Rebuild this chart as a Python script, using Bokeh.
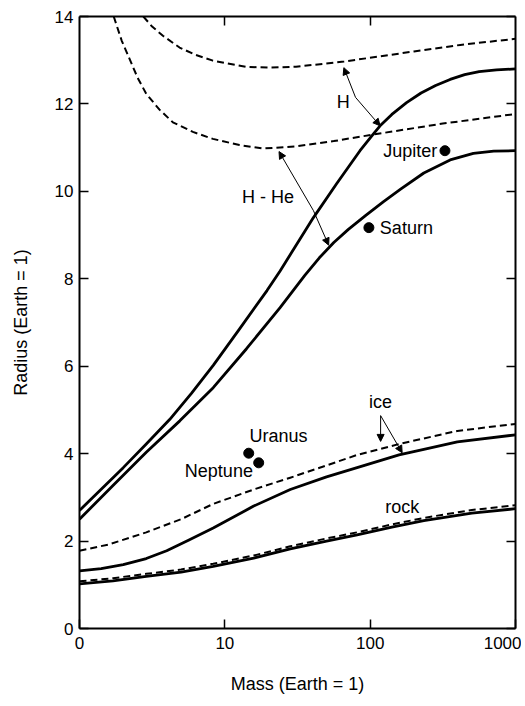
from bokeh.plotting import figure
from bokeh.models import (FixedTicker, LogAxis, LinearAxis, Arrow, NormalHead,
                          Label, ColumnDataSource, Range1d)
from bokeh.embed import file_html
from bokeh.resources import INLINE

# ---- data (mass in Earth masses, radius in Earth radii) ----
h_solid_mass = [1, 2.0, 2.88, 4.17, 5.89, 8.32, 12.6, 19.5, 24, 40.7, 58.9, 85.1, 105,
                117, 141, 178, 224, 282, 355, 447, 562, 741, 1000]
h_solid_r = [2.70, 3.68, 4.22, 4.78, 5.38, 6.02, 6.85, 7.73, 8.18, 9.40, 10.18, 10.93, 11.31,
             11.50, 11.76, 12.03, 12.25, 12.42, 12.56, 12.67, 12.74, 12.78, 12.8]

hhe_solid_mass = [1, 1.70, 2.88, 4.9, 8.32, 14.1, 24, 35.5, 44.7, 56.2, 70.8, 93.3, 123,
                  162, 234, 355, 513, 708, 1000]
hhe_solid_r = [2.50, 3.27, 4.03, 4.75, 5.51, 6.40, 7.34, 8.08, 8.48, 8.83, 9.13, 9.45, 9.76,
               10.05, 10.42, 10.72, 10.87, 10.92, 10.93]

h_dash_mass = [2.75, 3.16, 3.75, 4.88, 6.31, 8.28, 14.0, 20.0, 30.9, 66.1, 200, 417, 1000]
h_dash_r = [14.0, 13.77, 13.56, 13.29, 13.12, 12.99, 12.85, 12.83, 12.85, 12.97, 13.2, 13.35, 13.49]

hhe_dash_mass = [1.72, 1.95, 2.21, 2.51, 2.88, 3.55, 4.39, 6.03, 8.28, 12.6, 18.3, 30.9,
                 56.2, 105, 316, 1000]
hhe_dash_r = [14.0, 13.45, 13.03, 12.6, 12.23, 11.87, 11.58, 11.36, 11.20, 11.06, 10.98, 11.03,
              11.15, 11.3, 11.55, 11.77]

ice_solid_mass = [1, 1.41, 2.0, 2.88, 3.98, 5.62, 8.32, 15.8, 28.2, 50.1, 81.3, 158, 234, 398, 1000]
ice_solid_r = [1.32, 1.37, 1.46, 1.60, 1.78, 2.02, 2.30, 2.80, 3.18, 3.47, 3.68, 3.97, 4.10, 4.27, 4.43]

ice_dash_mass = [1, 1.58, 2.88, 5.0, 8.32, 15.8, 28.2, 50.1, 81.3, 158, 398, 1000]
ice_dash_r = [1.78, 1.92, 2.20, 2.50, 2.85, 3.18, 3.45, 3.73, 3.97, 4.22, 4.52, 4.68]

rock_solid_mass = [1, 1.70, 2.88, 5.0, 8.32, 15.8, 28.2, 50.1, 81.3, 141, 234, 501, 1000]
rock_solid_r = [1.02, 1.09, 1.19, 1.29, 1.42, 1.61, 1.82, 2.00, 2.14, 2.32, 2.47, 2.64, 2.74]

rock_dash_mass = [1, 1.70, 2.88, 5.0, 8.32, 15.8, 28.2, 50.1, 81.3, 141, 234, 501, 1000]
rock_dash_r = [1.08, 1.15, 1.25, 1.35, 1.48, 1.67, 1.88, 2.06, 2.20, 2.38, 2.53, 2.71, 2.82]

planet_names = ["Jupiter", "Saturn", "Uranus", "Neptune"]
planet_mass = [327, 98, 14.6, 17.1]
planet_r = [10.93, 9.17, 4.01, 3.79]

x_ticks = [1, 10, 100, 1000]
x_tick_labels = {1: "0", 10: "10", 100: "100", 1000: "1000"}
y_ticks = [0, 2, 4, 6, 8, 10, 12, 14]

FONT = "Liberation Sans"

p = figure(x_axis_type="log", x_range=Range1d(1, 1000), y_range=Range1d(0, 14),
           frame_width=436, frame_height=612,
           min_border_left=79, min_border_top=16, min_border_right=6, min_border_bottom=10,
           output_backend="svg", toolbar_location=None)
p.grid.visible = False
p.outline_line_color = None
p.background_fill_color = "white"
p.border_fill_color = "white"

def style_axis(ax, labels=True):
    ax.axis_line_width = 2
    ax.axis_line_color = "black"
    ax.major_tick_in = 9
    ax.major_tick_out = 0
    ax.major_tick_line_width = 1.5
    ax.major_tick_line_color = "black"
    ax.minor_tick_line_color = None
    ax.major_label_text_font = FONT
    ax.major_label_text_font_size = "17px"
    ax.major_label_text_color = "black"
    ax.axis_label_text_font = FONT
    ax.axis_label_text_font_size = "18px"
    ax.axis_label_text_font_style = "normal"
    ax.axis_label_text_color = "black"
    if not labels:
        ax.major_label_text_font_size = "0px"
        ax.major_label_text_color = None

xa = p.xaxis[0]
xa.ticker = FixedTicker(ticks=x_ticks, minor_ticks=[])
xa.major_label_overrides = x_tick_labels
xa.axis_label = "Mass (Earth = 1)"
xa.major_label_standoff = 8
xa.axis_label_standoff = 22
style_axis(xa)

ya = p.yaxis[0]
ya.ticker = FixedTicker(ticks=y_ticks, minor_ticks=[])
ya.axis_label = "Radius (Earth = 1)"
ya.major_label_standoff = 6
ya.axis_label_standoff = 21
style_axis(ya)

top = LogAxis(ticker=FixedTicker(ticks=[10, 100], minor_ticks=[]))
style_axis(top, labels=False)
p.add_layout(top, "above")
right = LinearAxis(ticker=FixedTicker(ticks=y_ticks, minor_ticks=[]))
style_axis(right, labels=False)
p.add_layout(right, "right")

# ---- curves ----
for xs, ys in [(h_solid_mass, h_solid_r), (hhe_solid_mass, hhe_solid_r),
               (ice_solid_mass, ice_solid_r), (rock_solid_mass, rock_solid_r)]:
    p.line(xs, ys, line_color="black", line_width=2.8, line_join="round")

for xs, ys in [(h_dash_mass, h_dash_r), (hhe_dash_mass, hhe_dash_r),
               (ice_dash_mass, ice_dash_r), (rock_dash_mass, rock_dash_r)]:
    p.line(xs, ys, line_color="black", line_width=2, line_dash="7 4", line_join="round")

# ---- planets ----
src = ColumnDataSource(dict(m=planet_mass, r=planet_r, name=planet_names))
p.scatter("m", "r", source=src, size=10, color="black")

def label(x, y, text, align="left"):
    p.add_layout(Label(x=x, y=y, text=text, text_font=FONT, text_font_size="18px",
                       text_color="black", text_align=align, text_baseline="middle"))

label(289.6, 10.93, "Jupiter", "right")
label(116.6, 9.17, "Saturn", "left")
label(14.8, 4.41, "Uranus", "left")
label(15.6, 3.61, "Neptune", "right")
label(19.8, 9.86, "H - He", "center")
label(65.4, 12.05, "H", "center")
label(118, 5.19, "ice", "center")
label(166, 2.79, "rock", "center")

def arrow(x0, y0, x1, y1):
    p.add_layout(Arrow(end=NormalHead(size=7, fill_color="black", line_color="black", line_width=1),
                       x_start=x0, y_start=y0, x_end=x1, y_end=y1,
                       line_color="black", line_width=1))

# H - He
arrow(40.7, 9.56, 23.6, 10.91)
arrow(40.7, 9.56, 51.8, 8.77)
# H
arrow(79.3, 12.15, 65.9, 12.83)
arrow(79.3, 12.15, 117, 11.50)
# ice
arrow(118, 4.87, 118, 4.28)
arrow(118, 4.87, 166, 4.02)

open("out.html", "w").write(file_html(p, INLINE))
